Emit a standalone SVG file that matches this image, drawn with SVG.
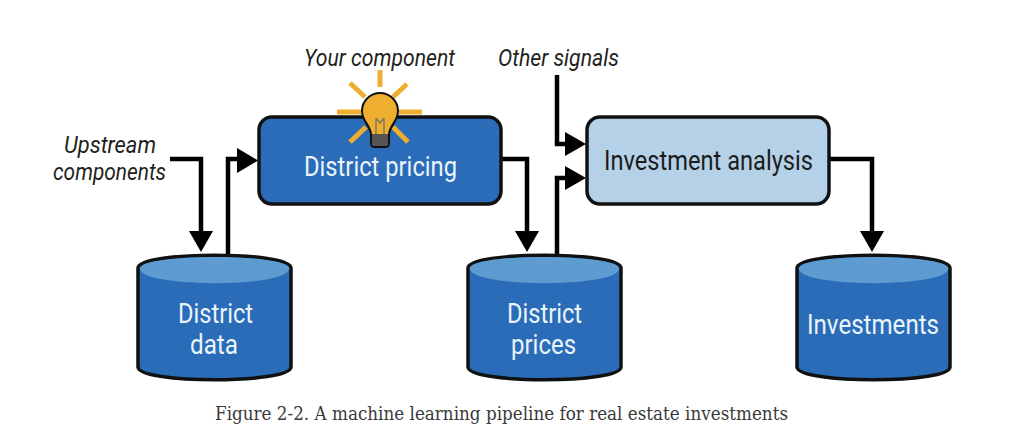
<svg xmlns="http://www.w3.org/2000/svg" width="1032" height="448" viewBox="0 0 1032 448">
<style>
.lbl{font-family:Roboto,"Open Sans",sans-serif;font-size:27px;fill:#eaf4fb}
.it{font-family:Roboto,"Open Sans",sans-serif;font-size:24px;font-style:italic;fill:#231f20}
.box{stroke:#111;stroke-width:3.500}
.conn{fill:none;stroke:#000;stroke-width:4.500}
.ray{stroke:#eeaf30;stroke-width:5;stroke-linecap:butt}
.cyl{fill:#2b6cb8;stroke:#111;stroke-width:3.500}
.top{fill:#5d9bd0}
</style>
<defs>
<g id="cylinder">
<path class="cyl" d="M0 13C0 -4 153 -4 153 13V112C153 129 0 129 0 112Z"/>
<path class="top" d="M1.800 13.500C2 -2 151 -2 151.200 13.500C151 33 2 33 1.800 13.500Z"/>
</g>
</defs>
<rect width="1032" height="448" fill="#fff"/>
<g id="connectors">
<path class="conn" d="M170 159H201V234"/>
<path d="M189 231H213L201 252Z"/>
<path class="conn" d="M228 255V159H240"/>
<path d="M237 148L258 160.500L237 173Z"/>
<path class="conn" d="M501 159H527V234"/>
<path d="M515 231H539L527 252Z"/>
<path class="conn" d="M557 255V178H568"/>
<path d="M565 166L586 178L565 190Z"/>
<path class="conn" d="M557 75V144H568"/>
<path d="M565 132L586 144L565 156Z"/>
<path class="conn" d="M829 159H872V234"/>
<path d="M860 231H884L872 252Z"/>
</g>
<g id="district-pricing">
<rect class="box" x="259" y="117" width="242" height="87" rx="13" fill="#2b6cb8"/>
<text class="lbl" x="304" y="176" textLength="153" lengthAdjust="spacingAndGlyphs">District pricing</text>
</g>
<g id="bulb">
<path class="ray" d="M380 70V87M350 83L365 97M407 84L393 97M337 112H361M399 112H422M350 142L366 127M408 142L393 127"/>
<path d="M362 111A18 18 0 0 1 398 111C398 121 390 125 389 134V143Q389 147 385 147H375Q371 147 371 143V134C370 125 362 121 362 111Z" fill="#eeaf30" stroke="#111" stroke-width="2"/>
<path d="M372 134H388V143Q388 146 385 146H375Q372 146 372 143Z" fill="#555"/>
<path d="M376 134V118M384 134V118M376 118L380 123L384 118" fill="none" stroke="#8a7a55" stroke-width="1.600"/>
</g>
<g id="investment-analysis">
<rect class="box" x="587" y="117" width="242" height="87" rx="13" fill="#b5d1e8"/>
<text class="lbl" x="604" y="170" textLength="209" lengthAdjust="spacingAndGlyphs" style="fill:#1c1c1c">Investment analysis</text>
</g>
<g id="district-data">
<use href="#cylinder" x="138" y="255"/>
<text class="lbl" x="178" y="323" textLength="75" lengthAdjust="spacingAndGlyphs">District</text>
<text class="lbl" x="190" y="354" textLength="48" lengthAdjust="spacingAndGlyphs">data</text>
</g>
<g id="district-prices">
<use href="#cylinder" x="468" y="255"/>
<text class="lbl" x="507" y="323" textLength="75" lengthAdjust="spacingAndGlyphs">District</text>
<text class="lbl" x="511" y="354" textLength="65" lengthAdjust="spacingAndGlyphs">prices</text>
</g>
<g id="investments">
<use href="#cylinder" x="797" y="255"/>
<text class="lbl" x="807" y="334" textLength="132" lengthAdjust="spacingAndGlyphs">Investments</text>
</g>
<g id="labels">
<text class="it" x="304" y="66" textLength="151" lengthAdjust="spacingAndGlyphs">Your component</text>
<text class="it" x="498" y="66" textLength="121" lengthAdjust="spacingAndGlyphs">Other signals</text>
<text class="it" x="64" y="153" textLength="92" lengthAdjust="spacingAndGlyphs">Upstream</text>
<text class="it" x="53" y="180" textLength="113" lengthAdjust="spacingAndGlyphs">components</text>
</g>
<text id="caption" x="215" y="420" textLength="573" lengthAdjust="spacingAndGlyphs" font-family="'DejaVu Serif','Liberation Serif',serif" font-size="18" fill="#3a3a3a">Figure 2-2. A machine learning pipeline for real estate investments</text>
</svg>
